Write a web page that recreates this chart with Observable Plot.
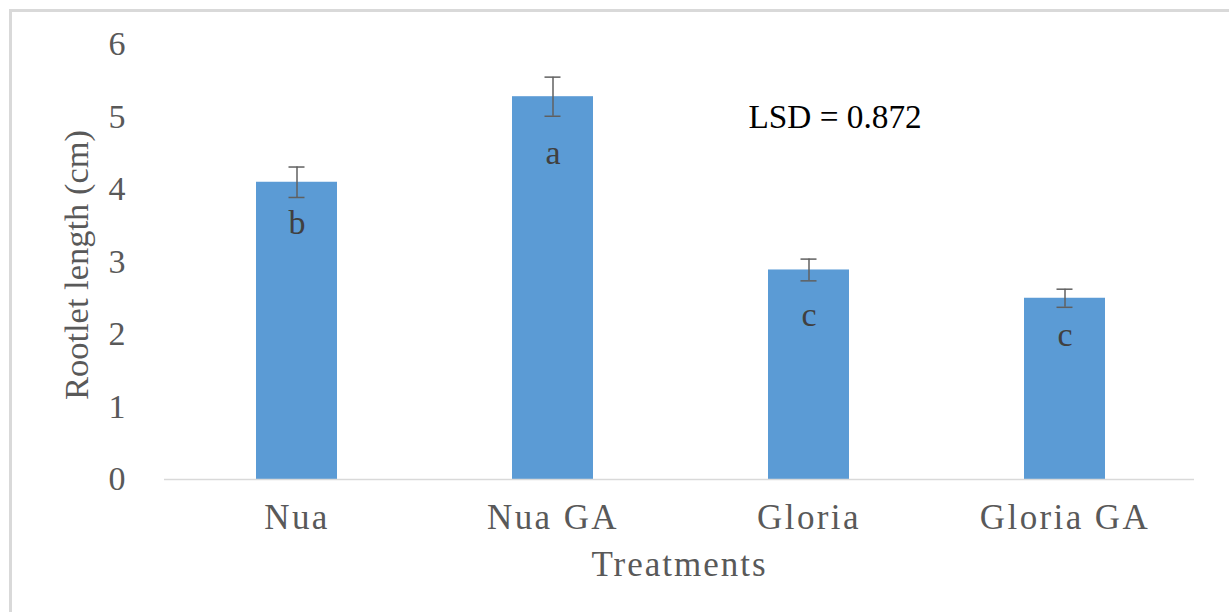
<!DOCTYPE html>
<html>
<head>
<meta charset="utf-8">
<script src="https://cdn.jsdelivr.net/npm/d3@7"></script>
<script src="https://cdn.jsdelivr.net/npm/@observablehq/plot@0.6"></script>
<style>
  html, body { margin: 0; padding: 0; background: #fff; }
  #wrap { position: relative; width: 1229px; height: 612px; overflow: hidden; background: #fff; }
  #border { position: absolute; left: 9px; top: 9px; width: 1240px; height: 620px;
            border-left: 3px solid #d9d9d9; border-top: 3px solid #d9d9d9; box-sizing: border-box; }
  #chart { position: absolute; left: 0; top: 0; }
  #chart svg, #chart svg text { font-family: "Liberation Serif", "Times New Roman", serif; }
  #chart svg g[aria-label="x-axis tick label"] text { letter-spacing: 2.4px; fill: #595959; }
  #chart svg g[aria-label="y-axis tick label"] text { fill: #595959; }
</style>
</head>
<body>
<div id="wrap">
  <div id="border"></div>
  <div id="chart"></div>
</div>
<script>
const categories = ["Nua", "Nua GA", "Gloria", "Gloria GA"];
const means = [4.10, 5.28, 2.89, 2.50];
const errors = [0.21, 0.27, 0.15, 0.125];
const letters = ["b", "a", "c", "c"];
const letterY = [3.39, 4.35, 2.12, 1.84];
const yTicks = [0, 1, 2, 3, 4, 5, 6];
const lsdText = "LSD = 0.872";
const xTitle = "Treatments";
const yTitle = "Rootlet length (cm)";

const data = categories.map((c, i) => ({
  name: c, mean: means[i], lo: means[i] - errors[i], hi: means[i] + errors[i],
  letter: letters[i], ly: letterY[i]
}));

const errColor = "#606060";

const chart = Plot.plot({
  width: 1229,
  height: 612,
  marginLeft: 164,
  marginRight: 35,
  marginTop: 44,
  marginBottom: 133,
  style: { fontFamily: "Liberation Serif, Times New Roman, serif", background: "transparent", color: "#595959" },
  x: { domain: categories, range: [167, 1194], paddingInner: 0.685, paddingOuter: 0.3425, align: 0.5, label: null },
  y: { domain: [0, 6], label: null },
  marks: [
    Plot.barY(data, { x: "name", y: "mean", fill: "#5B9BD5" }),
    Plot.ruleY([0], { stroke: "#d9d9d9", strokeWidth: 1.5 }),
    Plot.ruleX(data, { x: "name", y1: "lo", y2: "hi", stroke: errColor, strokeWidth: 1.5 }),
    Plot.tickY(data, { x: "name", y: "hi", insetLeft: 32.5, insetRight: 32.5, stroke: errColor, strokeWidth: 1.5 }),
    Plot.tickY(data, { x: "name", y: "lo", insetLeft: 32.5, insetRight: 32.5, stroke: errColor, strokeWidth: 1.5 }),
    Plot.text(data, { x: "name", y: "ly", text: "letter", fontSize: 34, fill: "#404040", lineAnchor: "bottom" }),
    Plot.axisY({ ticks: yTicks, tickFormat: d3.format("d"), tickSize: 0, tickPadding: 39, fontSize: 34, label: null, color: "#595959" }),
    Plot.axisX({ tickSize: 0, tickPadding: 25, fontSize: 35, label: null, color: "#595959" }),
    Plot.text([xTitle], { frameAnchor: "bottom", dy: 96, textAnchor: "middle", lineAnchor: "bottom", fontSize: 35, fill: "#595959" }),
    Plot.text([yTitle], { frameAnchor: "left", textAnchor: "middle", rotate: -90, dx: -77, dy: 3, lineAnchor: "bottom", fontSize: 34.5, fill: "#595959" }),
    Plot.text([lsdText], { frameAnchor: "top-left", textAnchor: "start", lineAnchor: "bottom", dx: 584, dy: 83, fontSize: 33.3, fill: "#000000" })
  ]
});
chart.querySelectorAll("text").forEach(t => {
  if (t.textContent === xTitle) t.style.letterSpacing = "2px";
});
document.getElementById("chart").appendChild(chart);
</script>
</body>
</html>
